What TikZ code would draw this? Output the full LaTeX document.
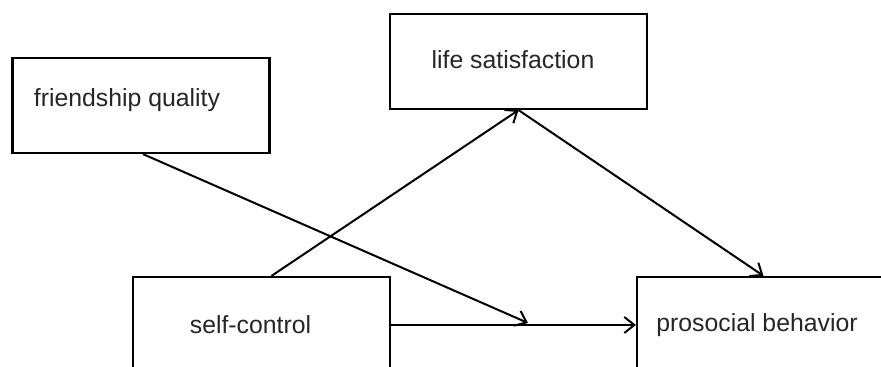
\documentclass[tikz,border=0pt]{standalone}
\usepackage{fontspec}
\setmainfont{Liberation Sans}
\usetikzlibrary{arrows.meta,positioning}

\begin{document}
\begin{tikzpicture}[x=0.5pt,y=-0.5pt,
  box/.style={draw=black,line width=1.1pt,rectangle,minimum width=128.5pt,minimum height=47.5pt,inner sep=0pt},
  lbl/.style={inner sep=0pt,text=black!85,font=\fontsize{12.4}{14}\selectfont},
  path/.style={line width=1pt,-{Straight Barb[length=5pt,width=8pt,line width=1pt]}}]
\useasboundingbox (0,0) rectangle (881,367);
\clip (0,0) rectangle (881,367);
\fill[white] (0,0) rectangle (881,367);
% boxes
\node [box] (fq) at (141,105.5) {};
\node [box] (ls) at (518.5,61.5) {};
\node [box] (sc) at (261.5,324.5) {};
\node [box] (pb) at (765.5,324.5) {};
% texts
\node [lbl] (fqtext) at (127,100) {friendship quality};
\node [lbl] (lstext) at (513,60) {life satisfaction};
\node [lbl] (sctext) at (250.5,325) {self-control};
\node [lbl] (pbtext) at (757,325) {prosocial behavior};
% paths
\coordinate (mod) at (528,323);
\draw [path] ([xshift=5pt]sc.north) -- (ls.south);
\draw [path] (ls.south) -- ([xshift=-1pt]pb.north);
\draw [path] ([yshift=-0.25pt]sc.east) -- ([yshift=-0.25pt]pb.west);
\draw [path] ([xshift=1pt]fq.south) -- (mod);
\end{tikzpicture}
\end{document}
